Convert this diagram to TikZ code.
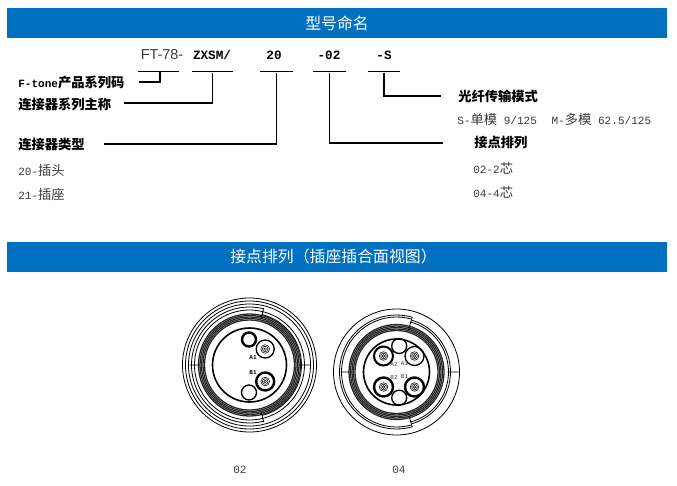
\documentclass[tikz,border=0pt]{standalone}
\usepackage{fontspec}
\setmainfont{Liberation Mono}
\newfontfamily\cjk[Scale=1.2]{Noto Sans CJK SC}
\newfontfamily\titlecjk{Noto Sans CJK SC}
\newfontfamily\arialfont{Liberation Sans}
\newcommand{\zh}[1]{{\cjk #1}}
\definecolor{bannerblue}{HTML}{0070C0}
\definecolor{plaintext}{HTML}{3A3A3A}
\begin{document}
\begin{tikzpicture}[x=.75pt,y=-.75pt,line cap=butt,
banner/.style={fill=bannerblue,minimum width=495pt,minimum height=22.5pt,inner sep=0pt},
bannertext/.style={inner sep=0pt,text=white,font=\titlecjk\fontsize{11.9}{14}\selectfont},
codetext/.style={inner sep=0pt,font=\fontsize{9.5}{11}\selectfont\bfseries},
rule/.style={fill=black,inner sep=0pt,minimum height=1.1pt},
lead/.style={line width=1.2pt},
headtext/.style={anchor=west,inner sep=0pt,font=\fontsize{8.3}{10}\selectfont\bfseries},
valuetext/.style={anchor=west,inner sep=0pt,text=plaintext,font=\fontsize{8.3}{10}\selectfont},
ring/.style={line width=.6pt,draw=black},
band/.style={line width=.95pt,draw=black!85},
core/.style={line width=.5pt,draw=black!85},
thickring/.style={line width=1.8pt,draw=black},
pinname/.style={inner sep=0pt,font=\fontsize{4.5}{5}\selectfont\bfseries}]
\useasboundingbox (0,0) rectangle (677,485);
% banners
\node[banner] (title1) at (337,23) {};
\node[banner] (title2) at (337,256.5) {};
\node[bannertext] (name1) at (337,23) {型号命名};
\node[bannertext] (name2) at (333.5,256.5) {接点排列（插座插合面视图）};
% model code
\node[inner sep=0pt,text=plaintext,font=\arialfont\fontsize{10.8}{12}\selectfont] (ft) at (162,55) {FT-78-};
\node[codetext] (zx) at (212,55) {ZXSM/};
\node[codetext] (n20) at (274,55) {20};
\node[codetext] (n02) at (329,55) {-02};
\node[codetext] (ns) at (384,55) {-S};
\node[rule,minimum width=30.7pt] (u1) at (158.5,71.5) {};
\node[rule,minimum width=30.7pt] (u2) at (212.5,71.5) {};
\node[rule,minimum width=24.7pt] (u3) at (276.5,71.5) {};
\node[rule,minimum width=24.7pt] (u4) at (329.5,71.5) {};
\node[rule,minimum width=24.7pt] (u5) at (384,71.5) {};
% labels
\node[headtext] (l1) at (18,82) {F-tone\zh{产品系列码}};
\node[headtext] (l2) at (18,104) {\zh{连接器系列主称}};
\node[headtext] (l3) at (18,145) {\zh{连接器类型}};
\node[valuetext] (v1) at (18,170) {20-\zh{插头}};
\node[valuetext] (v2) at (18,194) {21-\zh{插座}};
\node[headtext] (l4) at (458,96) {\zh{光纤传输模式}};
\node[valuetext] (v3) at (457,119) {S-\zh{单模} 9/125\hspace{6pt} M-\zh{多模} 62.5/125};
\node[headtext] (l5) at (474,143) {\zh{接点排列}};
\node[valuetext] (v4) at (473,168) {02-2\zh{芯}};
\node[valuetext] (v5) at (473,192) {04-4\zh{芯}};
\node[valuetext] (p2) at (233,470) {02};
\node[valuetext] (p4) at (392,470) {04};
% leaders
\coordinate (e1) at (139,82);
\coordinate (e2) at (124,103);
\coordinate (e3) at (104,144);
\coordinate (e4) at (441,96);
\coordinate (e5) at (443,143);
\draw[lead] (160,71.5) |- (e1);
\draw[lead] (u2.south) |- (e2);
\draw[lead] (u3.south) |- (e3);
\draw[lead] (u4.south) |- (e5);
\draw[lead] (u5.south) |- (e4);
% 02 connector
\begin{scope}[shift={(249.5,365)}]
\foreach \r in {67,64,61} \draw[ring] (0,0) circle[radius=\r];
\foreach \r in {58,55} {
  \draw[ring] (180:\r) arc[start angle=180,end angle=76,radius=\r];
  \draw[ring] (180:\r) arc[start angle=180,end angle=284,radius=\r];
  \draw[ring] (0:\r-3) arc[start angle=0,end angle=-76,radius=\r-3];
  \draw[ring] (0:\r-3) arc[start angle=0,end angle=76,radius=\r-3];
}
\foreach \r in {51,49.5,48,46.5,45} \draw[band] (0,0) circle[radius=\r];
\draw[line width=1.2pt] (0,0) circle[radius=37];
\draw[ring] (180:60)--(180:50) (0:60)--(0:49) (76:59)--(76:49) (-76:59)--(-76:49);
\draw[thickring] (-.5,-25.5) circle[radius=7];
\draw[line width=1pt] (-.5,27.5) circle[radius=7.5];
\draw[line width=1pt] (15.7,-16) circle[radius=9];
\draw[thickring] (15.7,16.5) circle[radius=9];
\foreach \y in {-16,16.5} \foreach \r in {1.3,2.8,4.3} \draw[core] (15.7,\y) circle[radius=\r];
\node[pinname] (a1) at (3.5,-7) {A1};
\node[pinname] (b1) at (3.5,8) {B1};
\end{scope}
% 04 connector
\begin{scope}[shift={(396.5,372)}]
\draw[ring] (0,0) circle[radius=63];
\foreach \r in {57,55} {
  \draw[ring] (180:\r) arc[start angle=180,end angle=74,radius=\r];
  \draw[ring] (180:\r) arc[start angle=180,end angle=286,radius=\r];
  \draw[ring] (0:\r-3) arc[start angle=0,end angle=-74,radius=\r-3];
  \draw[ring] (0:\r-3) arc[start angle=0,end angle=74,radius=\r-3];
}
\foreach \r in {47.5,46,44.5,43,41.5} \draw[band] (0,0) circle[radius=\r];
\draw[line width=1.2pt] (0,0) circle[radius=33];
\draw[ring] (180:56)--(180:44) (0:62)--(0:51) (74:57)--(74:46) (-74:57)--(-74:44);
\draw[line width=1pt] (2.7,-26) circle[radius=7.5];
\draw[line width=1pt] (2.7,25.7) circle[radius=7.5];
\foreach \x/\y/\w in {-13/-16/1.5,18/-16/1,-13/15/1.8,18/15/1.8} {
  \draw[line width=\w pt] (\x,\y) circle[radius=9.5];
  \foreach \r in {1.3,2.8,4.3} \draw[core] (\x,\y) circle[radius=\r];
}
\node[pinname,text=black!55] (a2) at (-2.5,-8) {A2};
\node[pinname,text=black!55] (a1r) at (8,-8) {A1};
\node[pinname,text=black!55] (b2) at (-2.5,5) {B2};
\node[pinname,text=black!55] (b1r) at (8,5) {B1};
\end{scope}
\end{tikzpicture}
\end{document}
